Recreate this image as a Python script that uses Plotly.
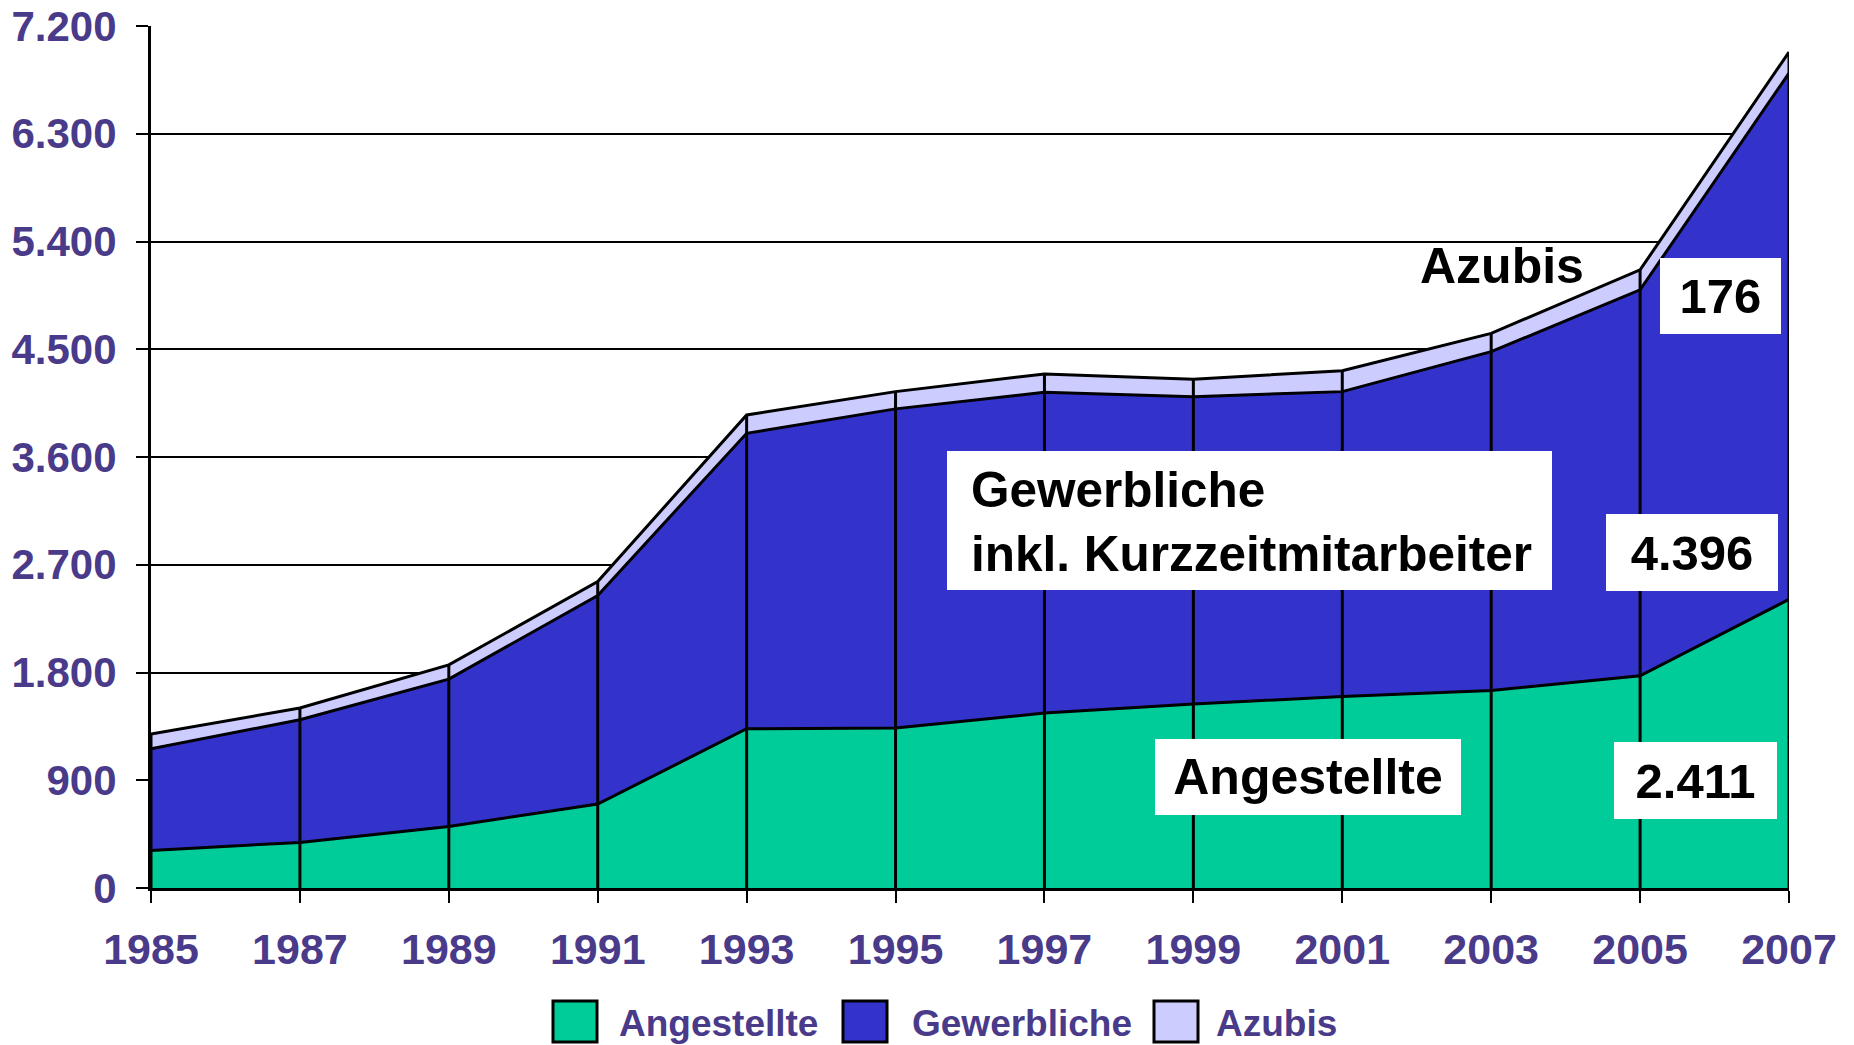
import plotly.graph_objects as go

# Staff headcount by category, 1985-2007
years = [1985, 1987, 1989, 1991, 1993, 1995, 1997, 1999, 2001, 2003, 2005, 2007]
angestellte = [314, 381, 514, 701, 1330, 1336, 1461, 1536, 1600, 1650, 1772, 2411]
gewerbliche = [849, 1024, 1231, 1742, 2468, 2666, 2680, 2568, 2546, 2830, 3224, 4396]
azubis = [123, 98, 119, 117, 153, 144, 153, 146, 175, 153, 167, 176]

series_names = ["Angestellte", "Gewerbliche", "Azubis"]
series_values = [angestellte, gewerbliche, azubis]
series_colors = ["#00CC99", "#3333CC", "#CCCCFF"]

y_tick_vals = [0, 900, 1800, 2700, 3600, 4500, 5400, 6300, 7200]
y_tick_labels = ["0", "900", "1.800", "2.700", "3.600", "4.500", "5.400", "6.300", "7.200"]
x_tick_labels = [str(y) for y in years]

PURPLE = "#4A3A8A"
FONT = "Liberation Sans, Arial, sans-serif"

FIG_W, FIG_H = 1854, 1045
M_L, M_R, M_T, M_B = 151, 65, 26, 157
PLOT_W = FIG_W - M_L - M_R
PLOT_H = FIG_H - M_T - M_B


def px_x(px):
    return (px - M_L) / PLOT_W


def px_y(py):
    return (FIG_H - M_B - py) / PLOT_H


def de_num(v):
    return f"{v:,}".replace(",", ".")


fig = go.Figure()

# Stacked areas with black outlines
for name, vals, color in zip(series_names, series_values, series_colors):
    fig.add_trace(go.Scatter(
        x=years, y=vals, name=name, mode="lines",
        stackgroup="staff", fillcolor=color,
        line=dict(color="black", width=3),
        showlegend=False,
    ))

# Vertical drop lines from the baseline to the stack total at every year
totals = [a + g + z for a, g, z in zip(angestellte, gewerbliche, azubis)]
drop_x, drop_y = [], []
for yr, tot in zip(years, totals):
    drop_x += [yr, yr, None]
    drop_y += [0, tot, None]
fig.add_trace(go.Scatter(
    x=drop_x, y=drop_y, mode="lines",
    line=dict(color="black", width=3),
    showlegend=False, hoverinfo="skip",
))

annotations = []
shapes = []


def box_label(text, cx, cy, w, h, size, bg="white"):
    annotations.append(dict(
        text=text, xref="paper", yref="paper",
        x=px_x(cx), y=px_y(cy), xanchor="center", yanchor="middle",
        showarrow=False, align="center", valign="middle",
        width=w, height=h, borderpad=0, borderwidth=0, bgcolor=bg,
        font=dict(family=FONT, size=size, color="black", weight="bold"),
    ))


box_label("Azubis", 1502, 266, None, None, 50, bg="rgba(0,0,0,0)")
box_label(de_num(azubis[-1]), 1720, 296, 121, 76, 49)
box_label(de_num(gewerbliche[-1]), 1692, 552, 172, 77, 49)
box_label(de_num(angestellte[-1]), 1695, 780, 163, 77, 49)
box_label("Angestellte", 1308, 776.5, 306, 76, 50)

# Two-line label on a white panel, text set flush left with an inner margin
shapes.append(dict(
    type="rect", xref="paper", yref="paper", layer="above",
    x0=px_x(947), x1=px_x(1552), y0=px_y(590), y1=px_y(451),
    fillcolor="white", line=dict(width=0),
))
annotations.append(dict(
    text="Gewerbliche<br>inkl. Kurzzeitmitarbeiter", xref="paper", yref="paper",
    x=px_x(969), y=px_y(521), xanchor="left", yanchor="middle",
    showarrow=False, align="left",
    font=dict(family=FONT, size=49.5, color="black", weight="bold"),
))

# Legend drawn as framed swatches with text beside them
swatch_left = [553, 843, 1154]
text_left = [617, 910, 1214]
for name, color, sx, tx in zip(series_names, series_colors, swatch_left, text_left):
    shapes.append(dict(
        type="rect", xref="paper", yref="paper",
        x0=px_x(sx), x1=px_x(sx + 44), y0=px_y(1042), y1=px_y(1001),
        fillcolor=color, line=dict(color="black", width=3),
    ))
    annotations.append(dict(
        text=name, xref="paper", yref="paper",
        x=px_x(tx), y=px_y(1023), xanchor="left", yanchor="middle",
        showarrow=False,
        font=dict(family=FONT, size=37, color=PURPLE, weight="bold"),
    ))

fig.update_layout(
    width=FIG_W, height=FIG_H, autosize=False,
    margin=dict(l=M_L, r=M_R, t=M_T, b=M_B, pad=0),
    paper_bgcolor="white", plot_bgcolor="white",
    showlegend=False,
    annotations=annotations, shapes=shapes,
    xaxis=dict(
        range=[years[0], years[-1]], automargin=False,
        tickmode="array", tickvals=years, ticktext=x_tick_labels,
        showgrid=False, zeroline=False,
        showline=True, linecolor="black", linewidth=3,
        ticks="outside", ticklen=12, tickwidth=2, tickcolor="black",
        tickfont=dict(family=FONT, size=43, color=PURPLE, weight="bold"),
        ticklabelstandoff=9,
    ),
    yaxis=dict(
        range=[0, 7200], automargin=False,
        tickmode="array", tickvals=y_tick_vals, ticktext=y_tick_labels,
        showgrid=True, gridcolor="black", gridwidth=2,
        zeroline=False,
        showline=True, linecolor="black", linewidth=3,
        ticks="outside", ticklen=12, tickwidth=2, tickcolor="black",
        tickfont=dict(family=FONT, size=42, color=PURPLE, weight="bold"),
        ticklabelstandoff=11,
    ),
)

fig.write_html("out.html")
